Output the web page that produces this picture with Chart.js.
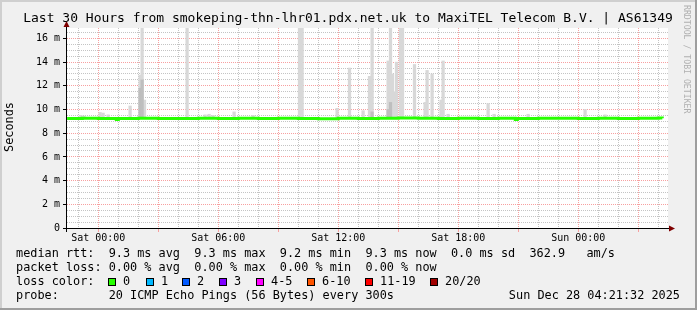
<!DOCTYPE html>
<html>
<head>
<meta charset="utf-8">
<script src="https://cdn.jsdelivr.net/npm/chart.js@4.4.1/dist/chart.umd.min.js"></script>
<style>
  html, body { margin: 0; padding: 0; background: #f0f0f0; }
  canvas { display: block; }
</style>
</head>
<body>
<canvas id="myChart" width="697" height="310"></canvas>
<script>
// Hours counted from Sat 00:00
const tickHours = [0, 6, 12, 18, 24];
const tickLabels = ["Sat 00:00", "Sat 06:00", "Sat 12:00", "Sat 18:00", "Sun 00:00"];

const yTickValues = [0, 2, 4, 6, 8, 10, 12, 14, 16];
const yTickLabels = ["0", "2 m", "4 m", "6 m", "8 m", "10 m", "12 m", "14 m", "16 m"];

// median rtt (ms)
const medianHours = [-1.56, -0.8, 0, 0.9, 1.0, 2, 3, 4, 5, 6, 7, 8, 9, 10, 11, 12, 13, 14, 15, 16,
                     17, 18, 19, 20, 20.85, 20.95, 22, 23, 24, 25, 26, 27, 28, 28.2];
const medianValues = [9.25, 9.27, 9.24, 9.15, 9.25, 9.26, 9.25, 9.24, 9.26, 9.25, 9.27, 9.25, 9.26, 9.25, 9.22, 9.26, 9.25,
                      9.27, 9.28, 9.26, 9.25, 9.26, 9.25, 9.27, 9.15, 9.24, 9.26, 9.27, 9.25, 9.26, 9.25, 9.27, 9.28, 9.27];

// smoke (max ping) spikes
const smokeHours = [-0.87, -0.72, 0.09, 0.24, 0.49, 1.59, 2.09, 2.19, 2.31, 4.44, 5.34, 5.54, 5.74, 6.79, 7.74,
                    10.06, 10.19, 11.94, 12.56, 13.24, 13.56, 13.69, 14.49, 14.61, 14.71, 14.81, 14.91, 15.11, 15.21,
                    15.81, 16.34, 16.44, 16.69, 17.14, 17.24, 17.49, 19.49, 19.79, 21.49, 24.34, 25.34];
const smokeTops = [9.5, 9.45, 9.75, 9.7, 9.55, 10.3, 12.9, 16.9, 10.8, 16.9, 9.55, 9.6, 9.5, 9.8, 9.5,
                   16.9, 16.9, 10.1, 13.5, 9.9, 12.8, 16.9, 14.1, 16.9, 13.0, 11.5, 14.0, 16.9, 16.9,
                   13.8, 10.6, 13.3, 13.0, 10.8, 14.1, 9.6, 10.5, 9.6, 9.6, 10.0, 9.55];

// darker smoke inside the spikes
const darkHours = [2.09, 2.19, 13.69, 14.49, 14.61];
const darkTops = [11.8, 12.5, 9.8, 10.0, 10.6];

const rttStats = ["9.3 ms avg", "9.3 ms max", "9.2 ms min", "9.3 ms now", "0.0 ms sd", "362.9   am/s"];
const lossStats = ["0.00 % avg", "0.00 % max", "0.00 % min", "0.00 % now"];
const lossLabels = ["0", "1", "2", "3", "4-5", "6-10", "11-19", "20/20"];
const lossColors = ["#26ff00", "#00b8ff", "#0059ff", "#7e00ff", "#ff00ff", "#ff5500", "#ff0000", "#a10000"];

const mono = '"DejaVu Sans Mono", monospace';
const redGrid = "#f7a0a0";
const grayGrid = "#c4c4c4";
const smokeBase = 9.25;
const xMin = -1.565, xMax = 28.485;
const yMax = 16.88;

// draws the rrdtool frame, axes and legend text
const rrdFrame = {
  id: "rrdFrame",
  beforeDraw(chart) {
    const ctx = chart.ctx;
    const a = chart.chartArea;
    ctx.save();
    ctx.fillStyle = "#f0f0f0";
    ctx.fillRect(0, 0, 697, 310);
    ctx.fillStyle = "#cfcfcf";
    ctx.fillRect(0, 0, 697, 2);
    ctx.fillRect(0, 0, 2, 310);
    ctx.fillStyle = "#9e9e9e";
    ctx.fillRect(0, 308, 697, 2);
    ctx.fillRect(695, 0, 2, 310);
    ctx.fillStyle = "#ffffff";
    ctx.fillRect(a.left, a.top, a.right - a.left, a.bottom - a.top);
    ctx.restore();
  },
  afterDraw(chart) {
    const ctx = chart.ctx;
    const a = chart.chartArea;
    ctx.save();

    // axes
    ctx.strokeStyle = "#000";
    ctx.lineWidth = 1;
    ctx.beginPath();
    ctx.moveTo(a.left - 0.5, a.bottom + 4);
    ctx.lineTo(a.left - 0.5, 26);
    ctx.moveTo(a.left - 4, a.bottom + 0.5);
    ctx.lineTo(a.right + 1, a.bottom + 0.5);
    ctx.stroke();
    ctx.fillStyle = "#7f0000";
    ctx.beginPath();
    ctx.moveTo(a.left - 0.5, 21);
    ctx.lineTo(a.left - 3.5, 27);
    ctx.lineTo(a.left + 2.5, 27);
    ctx.closePath();
    ctx.fill();
    ctx.beginPath();
    ctx.moveTo(a.right + 7, a.bottom + 0.5);
    ctx.lineTo(a.right + 1, a.bottom - 2.5);
    ctx.lineTo(a.right + 1, a.bottom + 3.5);
    ctx.closePath();
    ctx.fill();

    // title
    ctx.fillStyle = "#000";
    ctx.textBaseline = "middle";
    ctx.textAlign = "center";
    ctx.font = "13px " + mono;
    ctx.fillText("Last 30 Hours from smokeping-thn-lhr01.pdx.net.uk to MaxiTEL Telecom B.V. | AS61349", 348, 19);

    // vertical labels
    ctx.font = "11.85px " + mono;
    ctx.save();
    ctx.translate(10, 127);
    ctx.rotate(-Math.PI / 2);
    ctx.fillText("Seconds", 0, 0);
    ctx.restore();

    ctx.save();
    ctx.fillStyle = "#b0b0b0";
    ctx.font = "8.2px " + mono;
    ctx.textAlign = "left";
    ctx.translate(686, 5);
    ctx.rotate(Math.PI / 2);
    ctx.fillText("RRDTOOL / TOBI OETIKER", 0, 0);
    ctx.restore();

    // legend
    ctx.textAlign = "left";
    ctx.font = "11.85px " + mono;
    ctx.fillText("median rtt:  " + rttStats.join("  "), 16, 254);
    ctx.fillText("packet loss: " + lossStats.join("  "), 16, 268);
    ctx.fillText("loss color:", 16, 282);
    const boxX = [108, 146, 182, 219, 256, 307, 365, 430];
    lossLabels.forEach((label, i) => {
      ctx.fillStyle = lossColors[i];
      ctx.fillRect(boxX[i], 278, 8, 8);
      ctx.strokeStyle = "#000";
      ctx.strokeRect(boxX[i] + 0.5, 278.5, 7, 7);
      ctx.fillStyle = "#000";
      ctx.fillText(label, boxX[i] + 15, 282);
    });
    ctx.fillText("probe:       20 ICMP Echo Pings (56 Bytes) every 300s", 16, 296);
    ctx.textAlign = "right";
    ctx.fillText("Sun Dec 28 04:21:32 2025", 680, 296);
    ctx.restore();
  }
};

const data = {
  datasets: [
    {
      type: "line",
      label: "median rtt",
      data: medianHours.map((h, i) => ({ x: h, y: medianValues[i] })),
      borderColor: lossColors[0],
      borderWidth: 3,
      pointRadius: 0,
      stepped: "before",
      order: 0
    },
    {
      label: "smoke dark",
      data: darkHours.map((h, i) => ({ x: h, y: [smokeBase, darkTops[i]] })),
      backgroundColor: "#bebebe",
      barThickness: 2.6,
      grouped: false,
      order: 1
    },
    {
      label: "smoke",
      data: smokeHours.map((h, i) => ({ x: h, y: [smokeBase, smokeTops[i]] })),
      backgroundColor: "#d8d8d8",
      barThickness: 2.6,
      grouped: false,
      order: 2
    }
  ]
};

// major ticks land on whole steps; minor grids skip the places the major grid already covers
const keepInteger = (s) => { s.ticks = s.ticks.filter(t => Number.isInteger(t.value)); };
const minorHours = (s) => { s.ticks = s.ticks.filter(t => Number.isInteger(t.value) && t.value % 3 !== 0); };
const minorHalves = (s) => { s.ticks = s.ticks.filter(t => Number.isInteger(t.value * 2) && t.value % 2 !== 0); };

const config = {
  type: "bar",
  data: data,
  options: {
    responsive: false,
    animation: false,
    layout: { padding: { left: 0, top: 28, right: 29, bottom: 52 } },
    plugins: {
      legend: { display: false },
      tooltip: { enabled: false }
    },
    scales: {
      // major grid (every 3 h, red) with the labels
      x: {
        type: "linear",
        min: xMin,
        max: xMax,
        offset: false,
        afterBuildTicks: keepInteger,
        afterFit: (s) => { s.height = 30; },
        ticks: {
          stepSize: 3,
          includeBounds: false,
          maxTicksLimit: 100,
          autoSkip: false,
          maxRotation: 0,
          padding: 0,
          color: "#000",
          font: { family: mono, size: 10 },
          callback: (v) => { const i = tickHours.indexOf(v); return i < 0 ? "" : tickLabels[i]; }
        },
        grid: { offset: false, color: redGrid, tickColor: redGrid, tickLength: 4 },
        border: { display: false, dash: [1, 1] }
      },
      // minor grid (every hour, gray)
      x2: {
        type: "linear",
        position: "bottom",
        min: xMin,
        max: xMax,
        offset: false,
        afterBuildTicks: minorHours,
        afterFit: (s) => { s.height = 0; },
        ticks: { display: false, stepSize: 1, includeBounds: false, maxTicksLimit: 100, autoSkip: false },
        grid: { offset: false, color: grayGrid, drawTicks: false },
        border: { display: false, dash: [1, 1] }
      },
      // major grid (every 2 m, red) with the labels
      y: {
        min: 0,
        max: yMax,
        afterBuildTicks: keepInteger,
        afterFit: (s) => { s.width = 67; },
        ticks: {
          stepSize: 2,
          includeBounds: false,
          maxTicksLimit: 100,
          autoSkip: false,
          padding: 3,
          color: "#000",
          font: { family: mono, size: 10 },
          callback: (v) => { const i = yTickValues.indexOf(v); return i < 0 ? "" : yTickLabels[i]; }
        },
        grid: { color: redGrid, tickColor: "#000", tickLength: 4 },
        border: { display: false, dash: [1, 1] }
      },
      // minor grid (every 0.5 m, gray)
      y2: {
        type: "linear",
        position: "left",
        min: 0,
        max: yMax,
        afterBuildTicks: minorHalves,
        afterFit: (s) => { s.width = 0; },
        ticks: { display: false, stepSize: 0.5, includeBounds: false, maxTicksLimit: 100, autoSkip: false },
        grid: { color: grayGrid, drawTicks: false },
        border: { display: false, dash: [1, 1] }
      }
    }
  },
  plugins: [rrdFrame]
};

const myChart = new Chart(document.getElementById("myChart"), config);
</script>
</body>
</html>
